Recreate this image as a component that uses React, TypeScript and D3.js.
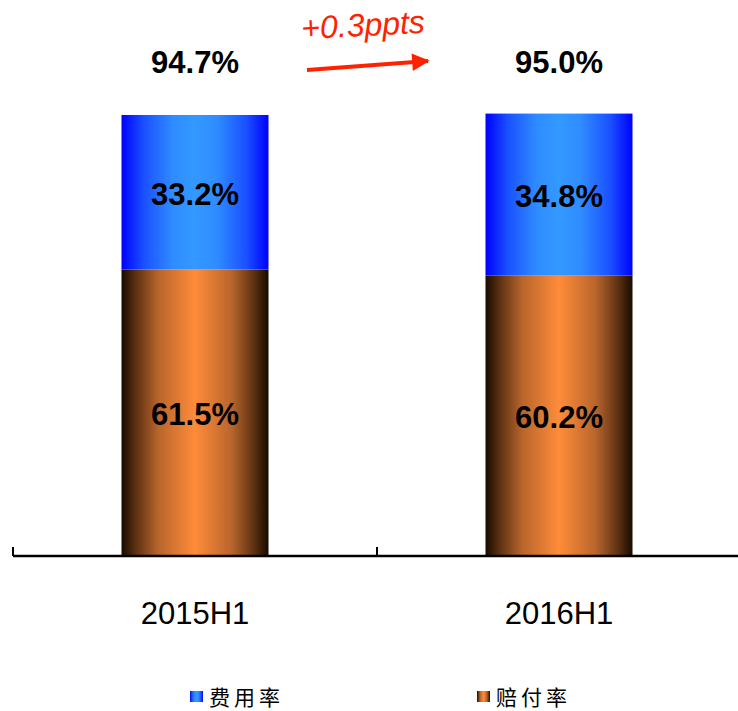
import React, { useRef, useEffect } from 'react';
import * as d3 from 'd3';

const categories = ['2015H1', '2016H1'];
const claimRatio = [61.5, 60.2];
const expenseRatio = [33.2, 34.8];
const totalLabels = ['94.7%', '95.0%'];
const seriesNames = ['费用率', '赔付率'];
const changeLabel = '+0.3ppts';

const App = () => {
  const ref = useRef<SVGSVGElement>(null);

  useEffect(() => {
    if (!ref.current) return;
    const svg = d3.select(ref.current);
    svg.selectAll('*').remove();

    const width = 738;
    const height = 711;

    const defs = svg.append('defs');
    const blue = defs.append('linearGradient').attr('id', 'gBlue').attr('x1', '0').attr('x2', '1').attr('y1', '0').attr('y2', '0');
    [['0%', '#0000ff'], ['15%', '#1a50ff'], ['35%', '#2f8cff'], ['50%', '#3399ff'], ['65%', '#2f8cff'], ['85%', '#1a50ff'], ['100%', '#0000ff']]
      .forEach(([o, c]) => blue.append('stop').attr('offset', o).attr('stop-color', c));
    const orange = defs.append('linearGradient').attr('id', 'gOrange').attr('x1', '0').attr('x2', '1').attr('y1', '0').attr('y2', '0');
    [['0%', '#170a01'], ['10%', '#5e3212'], ['25%', '#b8652c'], ['50%', '#ff8c3a'], ['75%', '#b8652c'], ['90%', '#5e3212'], ['100%', '#170a01']]
      .forEach(([o, c]) => orange.append('stop').attr('offset', o).attr('stop-color', c));
    const mk = defs.append('marker').attr('id', 'arrow').attr('viewBox', '0 0 10 10')
      .attr('refX', 9).attr('refY', 5).attr('markerWidth', 5).attr('markerHeight', 4.4)
      .attr('orient', 'auto').attr('markerUnits', 'strokeWidth');
    mk.append('path').attr('d', 'M0,0 L10,5 L0,10 Z').attr('fill', '#ff2200');

    const x = d3.scaleBand().domain(categories).range([13, 741]).paddingInner(0).paddingOuter(0);
    const y = d3.scaleLinear().domain([0, 100]).range([556, 90.3]);
    const barW = 147;
    const font = 'Liberation Sans, Arial, sans-serif';

    const g = svg.append('g');
    categories.forEach((c, i) => {
      const cx = x(c)! + x.bandwidth() / 2;
      const total = claimRatio[i] + expenseRatio[i];
      g.append('rect').attr('x', cx - barW / 2).attr('width', barW)
        .attr('y', y(claimRatio[i])).attr('height', y(0) - y(claimRatio[i]))
        .attr('fill', 'url(#gOrange)');
      g.append('rect').attr('x', cx - barW / 2).attr('width', barW)
        .attr('y', y(total)).attr('height', y(claimRatio[i]) - y(total))
        .attr('fill', 'url(#gBlue)');

      const bold = (t: string, yy: number, size: number) =>
        g.append('text').attr('x', cx).attr('y', yy).attr('text-anchor', 'middle')
          .attr('dominant-baseline', 'central')
          .attr('font-family', font).attr('font-weight', 'bold')
          .attr('font-size', size).attr('fill', '#000').text(t);
      bold(`${claimRatio[i].toFixed(1)}%`, (y(0) + y(claimRatio[i])) / 2 + 2, 31);
      bold(`${expenseRatio[i].toFixed(1)}%`, (y(claimRatio[i]) + y(total)) / 2 + 2, 31);
      bold(totalLabels[i], 62, 31);

      g.append('text').attr('x', cx).attr('y', 613).attr('text-anchor', 'middle')
        .attr('dominant-baseline', 'central')
        .attr('font-family', font).attr('font-size', 31)
        .attr('fill', '#000').text(c);
    });

    // axis
    const axis = svg.append('g').attr('transform', 'translate(0,556)')
      .call(d3.axisBottom(x).tickSize(0).tickFormat(() => ''));
    axis.select('.domain').remove();
    axis.append('line').attr('x1', 13).attr('x2', 738).attr('y1', 0).attr('y2', 0)
      .attr('stroke', '#000').attr('stroke-width', 2.5);
    const tickPos = [13, ...categories.map((c) => x(c)! + x.bandwidth())];
    axis.selectAll('line.tk').data(tickPos).enter().append('line').attr('class', 'tk')
      .attr('x1', (d) => d).attr('x2', (d) => d).attr('y1', 0).attr('y2', -9)
      .attr('stroke', '#000').attr('stroke-width', 2);

    // change annotation
    svg.append('line').attr('x1', 307).attr('y1', 70).attr('x2', 428).attr('y2', 61)
      .attr('stroke', '#ff2200').attr('stroke-width', 4).attr('marker-end', 'url(#arrow)');
    svg.append('text').attr('x', 363).attr('y', 25).attr('text-anchor', 'middle')
      .attr('dominant-baseline', 'central').attr('transform', 'rotate(-3,363,25)')
      .attr('font-family', font).attr('font-style', 'italic')
      .attr('font-size', 32).attr('fill', '#ff2200').text(changeLabel);

    // legend
    const legendX = [190, 477];
    const fills = ['url(#gBlue)', 'url(#gOrange)'];
    seriesNames.forEach((n, i) => {
      svg.append('rect').attr('x', legendX[i]).attr('y', 691).attr('width', 13).attr('height', 11)
        .attr('fill', fills[i]);
      svg.append('text').attr('x', legendX[i] + 19).attr('y', 696).attr('dominant-baseline', 'central')
        .attr('font-family', 'Noto Sans CJK SC, sans-serif').attr('font-size', 21)
        .attr('letter-spacing', 4).attr('fill', '#000').text(n);
    });

    svg.attr('width', width).attr('height', height);
  }, []);

  return (
    <svg ref={ref} width={738} height={711}
      style={{ position: 'absolute', left: 0, top: 0, background: '#fff' }} />
  );
};

export default App;
